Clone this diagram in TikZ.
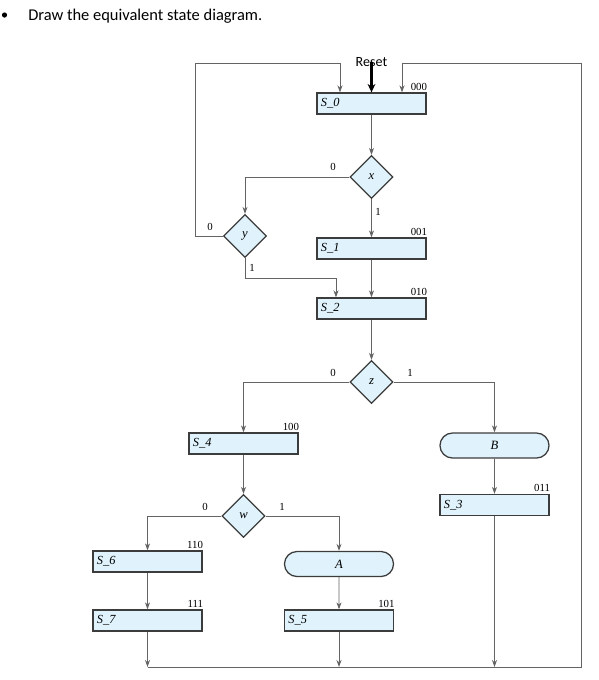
\documentclass[tikz,border=0pt]{standalone}
\usepackage{fontspec}
\setmainfont{Liberation Serif}
\newfontfamily\carlito{Carlito}
\usetikzlibrary{positioning,shapes.geometric,shapes.misc,arrows.meta}
\definecolor{boxfill}{RGB}{224,243,252}
\definecolor{boxline}{RGB}{60,60,60}
\definecolor{wirecol}{RGB}{100,100,100}

\tikzset{
 state/.style={draw=boxline,fill=boxfill,line width=0.9pt,rectangle,minimum width=2.725cm,minimum height=0.525cm,inner xsep=0.1cm,inner ysep=0pt,text width=2.525cm,align=left,font=\fontsize{8.8}{9}\selectfont\itshape},
 test/.style={draw=boxline,fill=boxfill,line width=0.9pt,diamond,minimum width=1.075cm,minimum height=1.075cm,inner sep=0pt,font=\fontsize{9}{9}\selectfont\itshape},
 output/.style={draw=boxline,fill=boxfill,line width=0.9pt,rounded rectangle,minimum width=2.725cm,minimum height=0.625cm,inner sep=0pt,font=\fontsize{9}{9}\selectfont\itshape},
 code/.style={font=\fontsize{7.7}{8}\selectfont,inner sep=1pt},
 bit/.style={font=\fontsize{7.7}{8}\selectfont,inner sep=0pt},
 wire/.style={draw=wirecol,line width=0.7pt,-{Stealth[length=5pt,width=3.6pt]}},
}

\begin{document}
\begin{tikzpicture}[x=0.025cm,y=-0.025cm]
\useasboundingbox (0,0) rectangle (599,680);
% heading
\fill (4.5,15) circle (2.6);
\node[anchor=base west,inner sep=0pt] (ttl) at (28,20) {\carlito\fontsize{11.7}{13}\selectfont Draw the equivalent state diagram.};
\node (rst) at (371.5,62) {\carlito\fontsize{10}{12}\selectfont Reset};

% states and tests
\node[state,label={[code,anchor=south east,label distance=1.5pt]north east:000}] (s0) at (371.5,103.5) {S\_0};
\node[test] (x) at (371.5,177) {x};
\node[state,label={[code,anchor=south east,label distance=1.5pt]north east:001}] (s1) at (371.5,248.5) {S\_1};
\node[test] (y) at (245,236) {y};
\node[state,label={[code,anchor=south east,label distance=1.5pt]north east:010}] (s2) at (371.5,308.5) {S\_2};
\node[test] (z) at (371.5,382) {z};
\node[state,label={[code,anchor=south east,label distance=1.5pt]north east:100}] (s4) at (243.5,443.5) {S\_4};
\node[output] (bb) at (494.5,445.5) {B};
\node[state,label={[code,anchor=south east,label distance=1.5pt]north east:011}] (s3) at (494.5,505) {S\_3};
\node[test] (w) at (243.5,516) {w};
\node[state,label={[code,anchor=south east,label distance=1.5pt]north east:110}] (s6) at (147.5,561.5) {S\_6};
\node[output] (aa) at (339,564) {A};
\node[state,label={[code,anchor=south east,label distance=1.5pt]north east:111}] (s7) at (147.5,620.5) {S\_7};
\node[state,label={[code,anchor=south east,label distance=1.5pt]north east:101}] (s5) at (339,620.5) {S\_5};

% branch values
\node[bit] (x0) at (333,167) {0};
\node[bit] (x1) at (378,212) {1};
\node[bit] (y0) at (210,227) {0};
\node[bit] (y1) at (252,268) {1};
\node[bit] (z0) at (333,373) {0};
\node[bit] (z1) at (410,373) {1};
\node[bit] (w0) at (205,507) {0};
\node[bit] (w1) at (282,507) {1};

\coordinate (tl) at (195,63);
\coordinate (tr) at (581,63);
\coordinate (br) at (581,667);

% connectors
\draw[wire] (s0) -- (x);
\draw[wire] (x) -| (y);
\draw[wire] (x) -- (s1);
\draw[wire] (y.west) -| (tl) -| ([xshift=-0.7875cm]s0.north);
\draw[wire] (s1) -- (s2);
\draw[wire] (y.south) -- ++(0,20) -| ([xshift=-0.8875cm]s2.north);
\draw[wire] (s2) -- (z);
\draw[wire] (z) -| (s4);
\draw[wire] (z) -| (bb);
\draw[wire] (s4) -- (w);
\draw[wire] (w) -| (s6);
\draw[wire] (w) -| (aa);
\draw[wire] (s6) -- (s7);
\draw[wire] (aa) -- (s5);
\draw[wire] (bb) -- (s3);
\draw[wire] (s7) -- (s7 |- br);
\draw[wire] (s5) -- (s5 |- br);
\draw[wire] (s3) -- (s3 |- br);
\draw[wire] (s7 |- br) -- (br) -- (tr) -| ([xshift=0.7625cm]s0.north);
\draw[line width=1.8pt,-{Stealth[length=6pt,width=5.5pt]}] (rst.center) -- (s0);
\end{tikzpicture}
\end{document}
